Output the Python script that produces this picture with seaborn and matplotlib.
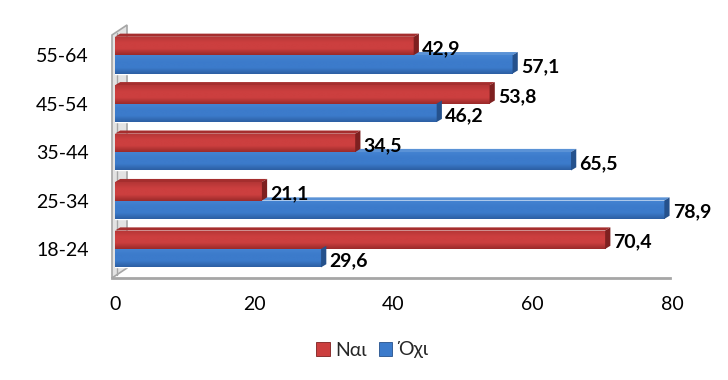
import matplotlib
matplotlib.use("Agg")
import matplotlib.pyplot as plt
import matplotlib.colors as mcolors
from matplotlib.patches import Polygon
import numpy as np
import pandas as pd
import seaborn as sns

# data
age_groups = ["55-64", "45-54", "35-44", "25-34", "18-24"]
yes_values = [42.9, 53.8, 34.5, 21.1, 70.4]
no_values = [57.1, 46.2, 65.5, 78.9, 29.6]
answers = ["Ναι", "Όχι"]
x_ticks = [0, 20, 40, 60, 80]

df = pd.DataFrame({
    "age": age_groups * 2,
    "value": yes_values + no_values,
    "answer": [answers[0]] * len(age_groups) + [answers[1]] * len(age_groups),
})

sns.set_theme(style="white")
plt.rcParams["font.family"] = ["Lato", "DejaVu Sans"]

palette = {"Ναι": "#C43A3A", "Όχι": "#3A78C8"}
# (top, middle, bottom, end face, top face)
shades = {
    "Ναι": ["#B43636", "#CC3F3F", "#9A2A2A", "#7E2020", "#A52E2E"],
    "Όχι": ["#4584D2", "#3C7BCB", "#2C5FA3", "#25518C", "#5A92D6"],
}

fig = plt.figure(figsize=(7.28, 3.8), dpi=100)
ax = fig.add_axes([115 / 728, 1 - 278 / 380, 557 / 728, 248 / 380])

sns.barplot(data=df, y="age", x="value", hue="answer", order=age_groups,
            hue_order=answers, palette=palette, orient="h", width=0.76,
            saturation=1, legend=False, ax=ax, zorder=3)

ax.set_xlim(0, 80)
ax.set_ylim(4.6, -0.52)

dx, dy = 0.75, 0.065
bars = ax.patches[:]
for i, bar in enumerate(bars):
    ans = answers[i // len(age_groups)]
    top, mid, bot, side, lid = shades[ans]
    x0, y0 = bar.get_x(), bar.get_y()
    w, h = bar.get_width(), bar.get_height()
    # vertical gradient inside the bar
    cmap = mcolors.LinearSegmentedColormap.from_list("g", [top, mid, mid, bot])
    grad = np.linspace(0, 1, 64).reshape(-1, 1)
    im = ax.imshow(grad, cmap=cmap, aspect="auto", extent=(x0, x0 + w, y0 + h, y0),
                   zorder=3.5, interpolation="bilinear")
    im.set_clip_path(bar)
    # fake 3d: top face and end face
    ax.add_patch(Polygon([(x0, y0), (x0 + dx, y0 - dy), (x0 + w + dx, y0 - dy), (x0 + w, y0)],
                         closed=True, facecolor=lid, edgecolor="none", zorder=3.4))
    ax.add_patch(Polygon([(x0 + w, y0), (x0 + w + dx, y0 - dy), (x0 + w + dx, y0 + h - dy), (x0 + w, y0 + h)],
                         closed=True, facecolor=side, edgecolor="none", zorder=3.6))
    ax.text(x0 + w + dx + 0.45, y0 + h / 2 + 0.05, f"{w:.1f}".replace(".", ","),
            ha="left", va="center", fontsize=14, fontweight="bold", color="black", zorder=5)

ax.set_xlim(0, 80)
ax.set_ylim(4.6, -0.52)

# left wall of the 3d box
px_w, px_h = 557.0, 248.0
wall = [(-3 / px_w, 0), (-3 / px_w, 243 / px_h), (12 / px_w, 253 / px_h), (12 / px_w, 10 / px_h)]
ax.add_patch(Polygon(wall, closed=True, transform=ax.transAxes, facecolor="#E3E3E3",
                     edgecolor="#A6A6A6", linewidth=1.2, clip_on=False, zorder=1))
ax.plot([2 / px_w, 2 / px_w], [3 / px_h, 245 / px_h], transform=ax.transAxes,
        color="#A6A6A6", lw=1, clip_on=False, zorder=1)

for side in ["top", "right", "left"]:
    ax.spines[side].set_visible(False)
ax.spines["bottom"].set_color("#A6A6A6")
ax.spines["bottom"].set_linewidth(2)
ax.spines["bottom"].set_bounds(-0.4, 79.7)

ax.set_xticks(x_ticks)
ax.set_xticklabels([str(t) for t in x_ticks])
ax.tick_params(axis="x", length=0, pad=13, labelsize=14, colors="black")
ax.tick_params(axis="y", length=0, pad=19, labelsize=14, colors="black")
ax.set_xlabel("")
ax.set_ylabel("")
ax.grid(False)

handles = [plt.Rectangle((0, 0), 1, 1, facecolor=shades[a][1], edgecolor=shades[a][3], lw=0.6)
           for a in answers]
fig.legend(handles, answers, loc="center", bbox_to_anchor=(372 / 728, 1 - 350 / 380),
           ncol=2, frameon=False, fontsize=14, handlelength=0.7, handleheight=0.7,
           handletextpad=0.3, columnspacing=0.6)

fig.savefig("out.png", dpi=100, facecolor="white")
